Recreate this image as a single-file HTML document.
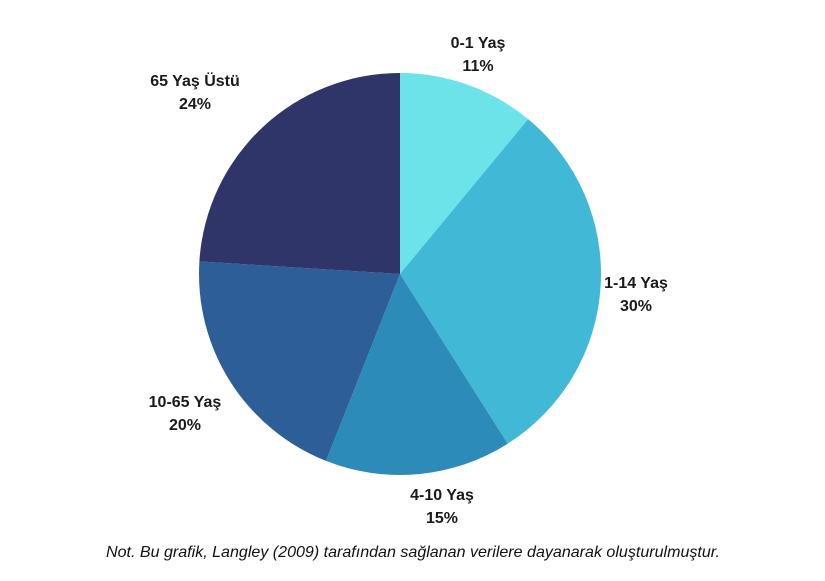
<!DOCTYPE html>
<html><head><meta charset="utf-8"><style>
body{margin:0;background:#fff;width:825px;height:581px;overflow:hidden}
svg{display:block}
text{font-family:"Liberation Sans",sans-serif}
.lb{font-size:16px;font-weight:bold;fill:#1a1a1a}
</style></head><body>
<svg id="chart" width="825" height="581" viewBox="0 0 825 581">
<g id="slices"></g>
<g id="labels"></g>
<text x="413" y="557" text-anchor="middle" font-size="16" font-style="italic" fill="#111" textLength="614" lengthAdjust="spacingAndGlyphs">Not. Bu grafik, Langley (2009) tarafından sağlanan verilere dayanarak oluşturulmuştur.</text>
</svg>
<script>
const categories=["0-1 Yaş","1-14 Yaş","4-10 Yaş","10-65 Yaş","65 Yaş Üstü"];
const values=[11,30,15,20,24];
const colors=["#6be3e8","#41b8d6","#2d8bba","#2e5e97","#2f3569"];
const labelPos=[[478,48],[636,288],[442,500],[185,407],[195,86]];
const cx=400,cy=274,r=201;
const total=values.reduce((a,b)=>a+b,0);
const ns="http://www.w3.org/2000/svg";
const gs=document.getElementById('slices'),gl=document.getElementById('labels');
let a0=0;
values.forEach((v,i)=>{
  const a1=a0+v/total*2*Math.PI;
  const x0=cx+r*Math.sin(a0),y0=cy-r*Math.cos(a0),x1=cx+r*Math.sin(a1),y1=cy-r*Math.cos(a1);
  const p=document.createElementNS(ns,'path');
  p.setAttribute('d',`M${cx},${cy}L${x0},${y0}A${r},${r} 0 ${a1-a0>Math.PI?1:0} 1 ${x1},${y1}Z`);
  p.setAttribute('fill',colors[i]);
  
  
  gs.appendChild(p);
  const [lx,ly]=labelPos[i];
  const t=document.createElementNS(ns,'text');
  t.setAttribute('class','lb');t.setAttribute('text-anchor','middle');
  t.setAttribute('x',lx);t.setAttribute('y',ly);
  
  
  t.innerHTML=`<tspan x="${lx}">${categories[i]}</tspan><tspan x="${lx}" dy="23">${v}%</tspan>`;
  gl.appendChild(t);
  a0=a1;
});
</script>
</body></html>
